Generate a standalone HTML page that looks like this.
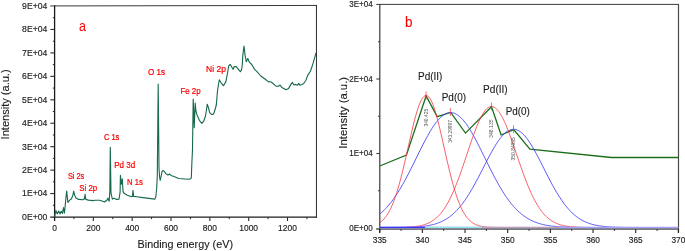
<!DOCTYPE html>
<html><head><meta charset="utf-8"><title>XPS spectra</title>
<style>html,body{margin:0;padding:0;background:#fff;}body{width:685px;height:251px;overflow:hidden;font-family:"Liberation Sans",sans-serif;}svg{display:block;will-change:transform;}</style>
</head><body>
<svg width="685" height="251" viewBox="0 0 685 251" font-family="Liberation Sans, sans-serif">
<rect width="685" height="251" fill="#fff"/>
<g stroke="#2a2a2a" fill="none">
<line x1="50.2" y1="5.95" x2="317" y2="5.45" stroke="#383838" stroke-width="1.0"/>
<line x1="50.2" y1="217.15" x2="317" y2="217.15" stroke="#1e1e1e" stroke-width="1.15"/>
<line x1="54.6" y1="5.4" x2="54.6" y2="221" stroke="#1a1a1a" stroke-width="1.3"/>
<line x1="316.45" y1="5.0" x2="316.45" y2="217.7" stroke-width="1.0"/>
<line x1="52.8" y1="205.28" x2="54.6" y2="205.28" stroke-width="1"/>
<line x1="50.4" y1="193.56" x2="54.6" y2="193.56" stroke-width="1.1"/>
<line x1="52.8" y1="181.84" x2="54.6" y2="181.84" stroke-width="1"/>
<line x1="50.4" y1="170.12" x2="54.6" y2="170.12" stroke-width="1.1"/>
<line x1="52.8" y1="158.40" x2="54.6" y2="158.40" stroke-width="1"/>
<line x1="50.4" y1="146.68" x2="54.6" y2="146.68" stroke-width="1.1"/>
<line x1="52.8" y1="134.96" x2="54.6" y2="134.96" stroke-width="1"/>
<line x1="50.4" y1="123.24" x2="54.6" y2="123.24" stroke-width="1.1"/>
<line x1="52.8" y1="111.52" x2="54.6" y2="111.52" stroke-width="1"/>
<line x1="50.4" y1="99.80" x2="54.6" y2="99.80" stroke-width="1.1"/>
<line x1="52.8" y1="88.08" x2="54.6" y2="88.08" stroke-width="1"/>
<line x1="50.4" y1="76.36" x2="54.6" y2="76.36" stroke-width="1.1"/>
<line x1="52.8" y1="64.64" x2="54.6" y2="64.64" stroke-width="1"/>
<line x1="50.4" y1="52.92" x2="54.6" y2="52.92" stroke-width="1.1"/>
<line x1="52.8" y1="41.20" x2="54.6" y2="41.20" stroke-width="1"/>
<line x1="50.4" y1="29.48" x2="54.6" y2="29.48" stroke-width="1.1"/>
<line x1="52.8" y1="17.76" x2="54.6" y2="17.76" stroke-width="1"/>
<line x1="73.92" y1="217.2" x2="73.92" y2="219.2" stroke-width="1"/>
<line x1="93.33" y1="217.2" x2="93.33" y2="221" stroke-width="1.1"/>
<line x1="112.75" y1="217.2" x2="112.75" y2="219.2" stroke-width="1"/>
<line x1="132.17" y1="217.2" x2="132.17" y2="221" stroke-width="1.1"/>
<line x1="151.59" y1="217.2" x2="151.59" y2="219.2" stroke-width="1"/>
<line x1="171.00" y1="217.2" x2="171.00" y2="221" stroke-width="1.1"/>
<line x1="190.42" y1="217.2" x2="190.42" y2="219.2" stroke-width="1"/>
<line x1="209.84" y1="217.2" x2="209.84" y2="221" stroke-width="1.1"/>
<line x1="229.25" y1="217.2" x2="229.25" y2="219.2" stroke-width="1"/>
<line x1="248.67" y1="217.2" x2="248.67" y2="221" stroke-width="1.1"/>
<line x1="268.09" y1="217.2" x2="268.09" y2="219.2" stroke-width="1"/>
<line x1="287.50" y1="217.2" x2="287.50" y2="221" stroke-width="1.1"/>
<line x1="306.92" y1="217.2" x2="306.92" y2="219.2" stroke-width="1"/>
</g>
<g fill="#1c1c1c" stroke="#1c1c1c" stroke-width="0.15" font-size="8.7" text-anchor="end">
<text x="47.3" y="219.85" textLength="25.2" lengthAdjust="spacingAndGlyphs">0E+00</text>
<text x="47.3" y="196.41" textLength="25.2" lengthAdjust="spacingAndGlyphs">1E+04</text>
<text x="47.3" y="172.97" textLength="25.2" lengthAdjust="spacingAndGlyphs">2E+04</text>
<text x="47.3" y="149.53" textLength="25.2" lengthAdjust="spacingAndGlyphs">3E+04</text>
<text x="47.3" y="126.09" textLength="25.2" lengthAdjust="spacingAndGlyphs">4E+04</text>
<text x="47.3" y="102.65" textLength="25.2" lengthAdjust="spacingAndGlyphs">5E+04</text>
<text x="47.3" y="79.21" textLength="25.2" lengthAdjust="spacingAndGlyphs">6E+04</text>
<text x="47.3" y="55.77" textLength="25.2" lengthAdjust="spacingAndGlyphs">7E+04</text>
<text x="47.3" y="32.33" textLength="25.2" lengthAdjust="spacingAndGlyphs">8E+04</text>
<text x="47.3" y="8.89" textLength="25.2" lengthAdjust="spacingAndGlyphs">9E+04</text>
</g>
<g fill="#1c1c1c" stroke="#1c1c1c" stroke-width="0.15" font-size="8.45" text-anchor="middle">
<text x="54.50" y="230.8">0</text>
<text x="93.33" y="230.8">200</text>
<text x="132.17" y="230.8">400</text>
<text x="171.00" y="230.8">600</text>
<text x="209.84" y="230.8">800</text>
<text x="248.67" y="230.8">1000</text>
<text x="287.50" y="230.8">1200</text>
</g>
<text x="137.6" y="247.6" font-size="10.7" fill="#1c1c1c" stroke="#1c1c1c" stroke-width="0.12" textLength="95.4" lengthAdjust="spacingAndGlyphs">Binding energy (eV)</text>
<text transform="translate(9.0,139.4) rotate(-90)" font-size="10.3" fill="#1c1c1c" stroke="#1c1c1c" stroke-width="0.12" textLength="70" lengthAdjust="spacingAndGlyphs">Intensity (a.u.)</text>
<polyline fill="none" stroke="#176a4c" stroke-width="1.12" stroke-linejoin="round" points="54.6,217.0 55.1,214.0 55.9,210.4 57.2,213.9 58.7,210.9 60.0,213.9 61.2,211.2 62.4,213.5 63.5,207.6 64.4,213.2 65.1,206.9 65.9,197.9 66.7,191.1 67.4,197.9 67.9,202.4 69.7,200.1 71.5,198.8 72.9,195.2 73.7,191.1 74.6,195.2 76.0,197.9 78.7,199.4 83.2,199.7 84.4,198.8 85.1,194.3 85.8,199.4 88.5,200.1 93.0,200.6 95.0,200.3 99.8,200.3 104.6,202.0 107.0,200.0 107.9,198.2 109.1,201.2 109.8,192.2 110.3,147.2 111.0,193.4 112.4,199.1 114.2,198.2 116.6,199.4 119.0,199.1 120.1,192.2 120.4,175.2 121.3,184.2 122.3,178.8 122.6,185.0 123.1,191.6 124.3,193.6 127.3,195.2 130.9,196.6 132.4,196.4 133.0,190.2 133.6,196.4 136.9,196.7 142.9,197.6 148.9,198.4 154.9,199.1 155.8,197.0 156.7,188.0 157.3,176.0 158.2,84.0 159.0,168.0 159.6,177.0 160.2,180.5 161.0,177.0 162.0,171.6 163.0,170.4 164.4,171.6 166.2,174.0 168.0,175.1 169.4,174.0 171.0,175.4 174.0,176.6 178.7,178.5 184.7,179.0 189.5,179.3 191.3,178.1 191.9,162.0 192.5,150.0 192.9,120.0 193.2,99.1 193.7,112.5 194.2,127.8 194.8,112.5 195.2,103.0 196.0,111.5 197.1,115.2 199.5,120.6 201.9,123.3 203.7,121.2 205.5,116.0 206.7,108.0 207.3,104.2 208.5,108.0 209.7,112.6 211.5,114.4 213.6,114.2 215.5,108.0 216.3,105.0 217.5,91.0 218.4,85.0 219.3,79.8 221.1,82.8 223.5,85.7 225.9,81.6 227.7,72.0 228.7,66.0 230.1,64.4 231.9,67.2 233.1,69.3 234.3,66.6 236.1,66.6 237.9,68.6 240.3,71.7 241.5,70.2 242.3,65.0 242.8,55.4 244.0,46.0 245.1,55.4 246.3,61.7 247.8,58.5 249.4,62.2 251.7,64.5 254.6,69.4 257.0,71.6 260.8,76.0 265.0,79.0 268.2,81.6 271.2,82.0 276.0,86.2 278.4,86.2 280.1,85.0 281.9,87.4 286.1,89.8 288.5,88.6 290.9,84.4 292.4,82.3 293.9,85.0 295.7,84.4 297.5,85.3 298.7,83.4 299.9,85.3 303.5,83.8 305.9,80.2 307.7,75.4 310.5,71.0 312.7,64.6 315.1,56.2 315.9,53.0"/>
<text x="148.1" y="75.1" font-size="8.4" fill="#ff0000" stroke="#ff0000" stroke-width="0.2" textLength="17" lengthAdjust="spacingAndGlyphs">O 1s</text>
<text x="206.1" y="71.7" font-size="8.4" fill="#ff0000" stroke="#ff0000" stroke-width="0.2" textLength="19.8" lengthAdjust="spacingAndGlyphs">Ni 2p</text>
<text x="180.4" y="93.6" font-size="8.4" fill="#ff0000" stroke="#ff0000" stroke-width="0.2" textLength="20.3" lengthAdjust="spacingAndGlyphs">Fe 2p</text>
<text x="103.9" y="140.0" font-size="8.4" fill="#ff0000" stroke="#ff0000" stroke-width="0.2" textLength="15.5" lengthAdjust="spacingAndGlyphs">C 1s</text>
<text x="114.2" y="168.1" font-size="8.4" fill="#ff0000" stroke="#ff0000" stroke-width="0.2" textLength="20.9" lengthAdjust="spacingAndGlyphs">Pd 3d</text>
<text x="127.1" y="184.9" font-size="8.4" fill="#ff0000" stroke="#ff0000" stroke-width="0.2" textLength="15.8" lengthAdjust="spacingAndGlyphs">N 1s</text>
<text x="67.9" y="179.4" font-size="8.4" fill="#ff0000" stroke="#ff0000" stroke-width="0.2" textLength="16.4" lengthAdjust="spacingAndGlyphs">Si 2s</text>
<text x="79.3" y="190.7" font-size="8.4" fill="#ff0000" stroke="#ff0000" stroke-width="0.2" textLength="17.9" lengthAdjust="spacingAndGlyphs">Si 2p</text>
<text x="79.0" y="30.6" font-size="14.9" fill="#ff0000" textLength="6.9" lengthAdjust="spacingAndGlyphs">a</text>
<g stroke="#3a3a3a" fill="none">
<line x1="376.2" y1="4.4" x2="679" y2="4.4" stroke-width="1"/>
<line x1="376.2" y1="229.0" x2="679" y2="229.0" stroke="#7c7c7c" stroke-width="1.8"/>
<line x1="379.8" y1="4" x2="379.8" y2="232.8" stroke-width="1.2"/>
<line x1="678.5" y1="4" x2="678.5" y2="232.8" stroke="#4a4a4a" stroke-width="1.2"/>
<line x1="378" y1="190.75" x2="379.8" y2="190.75" stroke-width="1"/>
<line x1="376.4" y1="153.50" x2="379.8" y2="153.50" stroke-width="1.1"/>
<line x1="378" y1="116.25" x2="379.8" y2="116.25" stroke-width="1"/>
<line x1="376.4" y1="79.00" x2="379.8" y2="79.00" stroke-width="1.1"/>
<line x1="378" y1="41.75" x2="379.8" y2="41.75" stroke-width="1"/>
<line x1="379.70" y1="229.2" x2="379.70" y2="233.0" stroke="#222" stroke-width="1.1"/>
<line x1="401.03" y1="229.2" x2="401.03" y2="230.9" stroke="#222" stroke-width="1"/>
<line x1="422.37" y1="229.2" x2="422.37" y2="233.0" stroke="#222" stroke-width="1.1"/>
<line x1="443.70" y1="229.2" x2="443.70" y2="230.9" stroke="#222" stroke-width="1"/>
<line x1="465.04" y1="229.2" x2="465.04" y2="233.0" stroke="#222" stroke-width="1.1"/>
<line x1="486.38" y1="229.2" x2="486.38" y2="230.9" stroke="#222" stroke-width="1"/>
<line x1="507.71" y1="229.2" x2="507.71" y2="233.0" stroke="#222" stroke-width="1.1"/>
<line x1="529.04" y1="229.2" x2="529.04" y2="230.9" stroke="#222" stroke-width="1"/>
<line x1="550.38" y1="229.2" x2="550.38" y2="233.0" stroke="#222" stroke-width="1.1"/>
<line x1="571.72" y1="229.2" x2="571.72" y2="230.9" stroke="#222" stroke-width="1"/>
<line x1="593.05" y1="229.2" x2="593.05" y2="233.0" stroke="#222" stroke-width="1.1"/>
<line x1="614.38" y1="229.2" x2="614.38" y2="230.9" stroke="#222" stroke-width="1"/>
<line x1="635.72" y1="229.2" x2="635.72" y2="233.0" stroke="#222" stroke-width="1.1"/>
<line x1="657.06" y1="229.2" x2="657.06" y2="230.9" stroke="#222" stroke-width="1"/>
<line x1="678.39" y1="229.2" x2="678.39" y2="233.0" stroke="#222" stroke-width="1.1"/>
</g>
<g fill="#1c1c1c" stroke="#1c1c1c" stroke-width="0.15" font-size="8.2" text-anchor="end">
<text x="372.6" y="231.10" textLength="23.4" lengthAdjust="spacingAndGlyphs">0E+00</text>
<text x="372.6" y="156.40" textLength="23.4" lengthAdjust="spacingAndGlyphs">1E+04</text>
<text x="372.6" y="81.70" textLength="23.4" lengthAdjust="spacingAndGlyphs">2E+04</text>
<text x="372.6" y="7.00" textLength="23.4" lengthAdjust="spacingAndGlyphs">3E+04</text>
</g>
<g fill="#1c1c1c" stroke="#1c1c1c" stroke-width="0.15" font-size="8.3" text-anchor="middle">
<text x="379.70" y="243.1">335</text>
<text x="422.37" y="243.1">340</text>
<text x="465.04" y="243.1">345</text>
<text x="507.71" y="243.1">350</text>
<text x="550.38" y="243.1">355</text>
<text x="593.05" y="243.1">360</text>
<text x="635.72" y="243.1">365</text>
<text x="678.39" y="243.1">370</text>
</g>
<text transform="translate(346.8,148.7) rotate(-90)" font-size="10.1" fill="#1c1c1c" stroke="#1c1c1c" stroke-width="0.12" textLength="71.8" lengthAdjust="spacingAndGlyphs">Intensity (a.u.)</text>
<polyline fill="none" stroke="#1c6e1c" stroke-width="1.3" stroke-linejoin="miter" points="379.8,166.0 406.4,155.1 426.1,96.0 437.2,116.6 450.7,112.4 465.5,133.1 491.5,106.8 501.1,135.0 513.7,129.6 529.9,149.2 611.4,157.5 678.4,157.5"/>
<polyline fill="none" stroke="#4444f4" stroke-width="0.9" stroke-linejoin="round" points="379.8,214.02 380.8,213.18 381.8,212.31 382.8,211.40 383.8,210.44 384.8,209.45 385.8,208.41 386.8,207.33 387.8,206.21 388.8,205.05 389.8,203.84 390.8,202.59 391.8,201.29 392.8,199.95 393.8,198.57 394.8,197.14 395.8,195.67 396.8,194.16 397.8,192.61 398.8,191.01 399.8,189.37 400.8,187.70 401.8,185.99 402.8,184.24 403.8,182.45 404.8,180.63 405.8,178.78 406.8,176.90 407.8,174.99 408.8,173.06 409.8,171.10 410.8,169.12 411.8,167.13 412.8,165.12 413.8,163.10 414.8,161.07 415.8,159.03 416.8,156.99 417.8,154.96 418.8,152.93 419.8,150.90 420.8,148.89 421.8,146.90 422.8,144.93 423.8,142.98 424.8,141.05 425.8,139.16 426.8,137.31 427.8,135.50 428.8,133.72 429.8,132.00 430.8,130.33 431.8,128.71 432.8,127.15 433.8,125.66 434.8,124.23 435.8,122.87 436.8,121.58 437.8,120.37 438.8,119.24 439.8,118.19 440.8,117.22 441.8,116.34 442.8,115.55 443.8,114.85 444.8,114.24 445.8,113.73 446.8,113.31 447.8,112.98 448.8,112.76 449.8,112.63 450.8,112.60 451.8,112.67 452.8,112.84 453.8,113.10 454.8,113.46 455.8,113.92 456.8,114.47 457.8,115.12 458.8,115.86 459.8,116.68 460.8,117.60 461.8,118.60 462.8,119.68 463.8,120.85 464.8,122.09 465.8,123.41 466.8,124.79 467.8,126.25 468.8,127.77 469.8,129.35 470.8,130.99 471.8,132.68 472.8,134.43 473.8,136.22 474.8,138.05 475.8,139.92 476.8,141.82 477.8,143.75 478.8,145.71 479.8,147.70 480.8,149.70 481.8,151.71 482.8,153.74 483.8,155.77 484.8,157.81 485.8,159.85 486.8,161.88 487.8,163.91 488.8,165.92 489.8,167.93 490.8,169.92 491.8,171.89 492.8,173.83 493.8,175.76 494.8,177.66 495.8,179.52 496.8,181.36 497.8,183.17 498.8,184.94 499.8,186.68 500.8,188.37 501.8,190.03 502.8,191.65 503.8,193.23 504.8,194.77 505.8,196.27 506.8,197.72 507.8,199.13 508.8,200.49 509.8,201.82 510.8,203.09 511.8,204.33 512.8,205.52 513.8,206.67 514.8,207.77 515.8,208.83 516.8,209.85 517.8,210.83 518.8,211.77 519.8,212.66 520.8,213.52 521.8,214.34 522.8,215.13 523.8,215.87 524.8,216.58 525.8,217.26 526.8,217.90 527.8,218.51 528.8,219.09 529.8,219.63 530.8,220.15 531.8,220.64 532.8,221.10 533.8,221.54 534.8,221.95 535.8,222.34 536.8,222.70 537.8,223.05 538.8,223.37 539.8,223.67 540.8,223.95 541.8,224.22 542.8,224.47 543.8,224.70 544.8,224.91 545.8,225.11 546.8,225.30 547.8,225.48 548.8,225.64 549.8,225.79 550.8,225.93 551.8,226.06 552.8,226.18 553.8,226.29 554.8,226.39 555.8,226.49 556.8,226.57 557.8,226.66 558.8,226.73 559.8,226.80 560.8,226.86 561.8,226.92 562.8,226.97 563.8,227.02 564.8,227.06 565.8,227.11 566.8,227.14 567.8,227.18 568.8,227.21 569.8,227.24 570.8,227.26 571.8,227.28 572.8,227.31 573.8,227.33 574.8,227.34 575.8,227.36 576.8,227.37 577.8,227.39 578.8,227.40 579.8,227.41 580.8,227.42 581.8,227.43 582.8,227.43 583.8,227.44 584.8,227.45 585.8,227.45 586.8,227.46 587.8,227.46 588.8,227.47 589.8,227.47 590.8,227.47 591.8,227.48 592.8,227.48 593.8,227.48 594.8,227.48 595.8,227.49 596.8,227.49 597.8,227.49 598.8,227.49 599.8,227.49 600.8,227.49 601.8,227.49 602.8,227.49 603.8,227.49 604.8,227.50 605.8,227.50 606.8,227.50 607.8,227.50 608.8,227.50 609.8,227.50 610.8,227.50 611.8,227.50 612.8,227.50 613.8,227.50 614.8,227.50 615.8,227.50 616.8,227.50 617.8,227.50 618.8,227.50 619.8,227.50 620.8,227.50 621.8,227.50 622.8,227.50 623.8,227.50 624.8,227.50 625.8,227.50 626.8,227.50 627.8,227.50 628.8,227.50 629.8,227.50 630.8,227.50 631.8,227.50 632.8,227.50 633.8,227.50 634.8,227.50 635.8,227.50 636.8,227.50 637.8,227.50 638.8,227.50 639.8,227.50 640.8,227.50 641.8,227.50 642.8,227.50 643.8,227.50 644.8,227.50 645.8,227.50 646.8,227.50 647.8,227.50 648.8,227.50 649.8,227.50 650.8,227.50 651.8,227.50 652.8,227.50 653.8,227.50 654.8,227.50 655.8,227.50 656.8,227.50 657.8,227.50 658.8,227.50 659.8,227.50 660.8,227.50 661.8,227.50 662.8,227.50 663.8,227.50 664.8,227.50 665.8,227.50 666.8,227.50 667.8,227.50 668.8,227.50 669.8,227.50 670.8,227.50 671.8,227.50 672.8,227.50 673.8,227.50 674.8,227.50 675.8,227.50 676.8,227.50 677.8,227.50"/>
<polyline fill="none" stroke="#4444f4" stroke-width="0.9" stroke-linejoin="round" points="379.8,227.49 380.8,227.49 381.8,227.49 382.8,227.49 383.8,227.49 384.8,227.49 385.8,227.49 386.8,227.48 387.8,227.48 388.8,227.48 389.8,227.48 390.8,227.47 391.8,227.47 392.8,227.46 393.8,227.46 394.8,227.45 395.8,227.45 396.8,227.44 397.8,227.43 398.8,227.42 399.8,227.41 400.8,227.40 401.8,227.39 402.8,227.37 403.8,227.36 404.8,227.34 405.8,227.32 406.8,227.29 407.8,227.27 408.8,227.24 409.8,227.21 410.8,227.18 411.8,227.14 412.8,227.10 413.8,227.05 414.8,227.00 415.8,226.94 416.8,226.88 417.8,226.82 418.8,226.74 419.8,226.66 420.8,226.57 421.8,226.47 422.8,226.37 423.8,226.25 424.8,226.12 425.8,225.98 426.8,225.83 427.8,225.67 428.8,225.49 429.8,225.30 430.8,225.09 431.8,224.87 432.8,224.63 433.8,224.37 434.8,224.09 435.8,223.79 436.8,223.46 437.8,223.11 438.8,222.74 439.8,222.34 440.8,221.92 441.8,221.46 442.8,220.98 443.8,220.46 444.8,219.92 445.8,219.33 446.8,218.72 447.8,218.06 448.8,217.37 449.8,216.64 450.8,215.87 451.8,215.06 452.8,214.21 453.8,213.31 454.8,212.37 455.8,211.39 456.8,210.36 457.8,209.28 458.8,208.16 459.8,206.99 460.8,205.77 461.8,204.50 462.8,203.19 463.8,201.83 464.8,200.43 465.8,198.97 466.8,197.48 467.8,195.93 468.8,194.35 469.8,192.72 470.8,191.05 471.8,189.34 472.8,187.60 473.8,185.82 474.8,184.01 475.8,182.17 476.8,180.30 477.8,178.41 478.8,176.50 479.8,174.57 480.8,172.63 481.8,170.68 482.8,168.72 483.8,166.76 484.8,164.81 485.8,162.86 486.8,160.92 487.8,159.00 488.8,157.10 489.8,155.22 490.8,153.37 491.8,151.56 492.8,149.79 493.8,148.07 494.8,146.39 495.8,144.77 496.8,143.21 497.8,141.71 498.8,140.27 499.8,138.91 500.8,137.63 501.8,136.43 502.8,135.31 503.8,134.27 504.8,133.33 505.8,132.48 506.8,131.73 507.8,131.07 508.8,130.52 509.8,130.06 510.8,129.72 511.8,129.47 512.8,129.33 513.8,129.30 514.8,129.38 515.8,129.56 516.8,129.86 517.8,130.26 518.8,130.76 519.8,131.37 520.8,132.09 521.8,132.90 522.8,133.81 523.8,134.82 524.8,135.91 525.8,137.09 526.8,138.36 527.8,139.71 528.8,141.13 529.8,142.62 530.8,144.18 531.8,145.81 532.8,147.49 533.8,149.22 534.8,151.00 535.8,152.82 536.8,154.68 537.8,156.57 538.8,158.49 539.8,160.44 540.8,162.40 541.8,164.37 542.8,166.35 543.8,168.34 544.8,170.32 545.8,172.30 546.8,174.27 547.8,176.22 548.8,178.16 549.8,180.08 550.8,181.98 551.8,183.85 552.8,185.68 553.8,187.49 554.8,189.26 555.8,190.99 556.8,192.68 557.8,194.33 558.8,195.94 559.8,197.50 560.8,199.02 561.8,200.49 562.8,201.91 563.8,203.28 564.8,204.61 565.8,205.89 566.8,207.12 567.8,208.30 568.8,209.43 569.8,210.52 570.8,211.55 571.8,212.54 572.8,213.49 573.8,214.39 574.8,215.24 575.8,216.05 576.8,216.82 577.8,217.55 578.8,218.24 579.8,218.90 580.8,219.51 581.8,220.09 582.8,220.63 583.8,221.15 584.8,221.63 585.8,222.08 586.8,222.50 587.8,222.89 588.8,223.26 589.8,223.60 590.8,223.92 591.8,224.21 592.8,224.49 593.8,224.74 594.8,224.98 595.8,225.20 596.8,225.40 597.8,225.59 598.8,225.76 599.8,225.92 600.8,226.06 601.8,226.20 602.8,226.32 603.8,226.43 604.8,226.53 605.8,226.63 606.8,226.71 607.8,226.79 608.8,226.86 609.8,226.93 610.8,226.98 611.8,227.04 612.8,227.09 613.8,227.13 614.8,227.17 615.8,227.20 616.8,227.24 617.8,227.26 618.8,227.29 619.8,227.31 620.8,227.33 621.8,227.35 622.8,227.37 623.8,227.38 624.8,227.40 625.8,227.41 626.8,227.42 627.8,227.43 628.8,227.44 629.8,227.45 630.8,227.45 631.8,227.46 632.8,227.46 633.8,227.47 634.8,227.47 635.8,227.48 636.8,227.48 637.8,227.48 638.8,227.48 639.8,227.49 640.8,227.49 641.8,227.49 642.8,227.49 643.8,227.49 644.8,227.49 645.8,227.49 646.8,227.49 647.8,227.50 648.8,227.50 649.8,227.50 650.8,227.50 651.8,227.50 652.8,227.50 653.8,227.50 654.8,227.50 655.8,227.50 656.8,227.50 657.8,227.50 658.8,227.50 659.8,227.50 660.8,227.50 661.8,227.50 662.8,227.50 663.8,227.50 664.8,227.50 665.8,227.50 666.8,227.50 667.8,227.50 668.8,227.50 669.8,227.50 670.8,227.50 671.8,227.50 672.8,227.50 673.8,227.50 674.8,227.50 675.8,227.50 676.8,227.50 677.8,227.50"/>
<polyline fill="none" stroke="#f5363f" stroke-width="0.8" stroke-linejoin="round" points="379.8,222.67 380.8,221.94 381.8,221.11 382.8,220.19 383.8,219.16 384.8,218.01 385.8,216.73 386.8,215.33 387.8,213.78 388.8,212.08 389.8,210.22 390.8,208.21 391.8,206.02 392.8,203.66 393.8,201.12 394.8,198.39 395.8,195.49 396.8,192.41 397.8,189.15 398.8,185.71 399.8,182.11 400.8,178.34 401.8,174.43 402.8,170.39 403.8,166.22 404.8,161.96 405.8,157.61 406.8,153.21 407.8,148.77 408.8,144.33 409.8,139.90 410.8,135.52 411.8,131.22 412.8,127.03 413.8,122.99 414.8,119.11 415.8,115.43 416.8,111.99 417.8,108.81 418.8,105.92 419.8,103.34 420.8,101.10 421.8,99.21 422.8,97.70 423.8,96.57 424.8,95.84 425.8,95.52 426.8,95.60 427.8,96.09 428.8,96.98 429.8,98.26 430.8,99.92 431.8,101.96 432.8,104.33 433.8,107.04 434.8,110.05 435.8,113.34 436.8,116.88 437.8,120.64 438.8,124.59 439.8,128.69 440.8,132.93 441.8,137.27 442.8,141.67 443.8,146.10 444.8,150.55 445.8,154.98 446.8,159.36 447.8,163.68 448.8,167.90 449.8,172.02 450.8,176.01 451.8,179.87 452.8,183.57 453.8,187.10 454.8,190.47 455.8,193.66 456.8,196.67 457.8,199.50 458.8,202.15 459.8,204.62 460.8,206.91 461.8,209.03 462.8,210.99 463.8,212.78 464.8,214.41 465.8,215.91 466.8,217.26 467.8,218.48 468.8,219.58 469.8,220.57 470.8,221.45 471.8,222.24 472.8,222.94 473.8,223.56 474.8,224.10 475.8,224.58 476.8,225.00 477.8,225.37 478.8,225.68 479.8,225.96 480.8,226.20 481.8,226.40 482.8,226.58 483.8,226.73 484.8,226.85 485.8,226.96 486.8,227.05 487.8,227.13 488.8,227.19 489.8,227.25 490.8,227.29 491.8,227.33 492.8,227.36 493.8,227.39 494.8,227.41 495.8,227.43 496.8,227.44 497.8,227.45 498.8,227.46 499.8,227.47 500.8,227.48 501.8,227.48 502.8,227.48 503.8,227.49 504.8,227.49 505.8,227.49 506.8,227.49 507.8,227.50 508.8,227.50 509.8,227.50 510.8,227.50 511.8,227.50 512.8,227.50 513.8,227.50 514.8,227.50 515.8,227.50 516.8,227.50 517.8,227.50 518.8,227.50 519.8,227.50 520.8,227.50 521.8,227.50 522.8,227.50 523.8,227.50 524.8,227.50 525.8,227.50 526.8,227.50 527.8,227.50 528.8,227.50 529.8,227.50 530.8,227.50 531.8,227.50 532.8,227.50 533.8,227.50 534.8,227.50 535.8,227.50 536.8,227.50 537.8,227.50 538.8,227.50 539.8,227.50 540.8,227.50 541.8,227.50 542.8,227.50 543.8,227.50 544.8,227.50 545.8,227.50 546.8,227.50 547.8,227.50 548.8,227.50 549.8,227.50 550.8,227.50 551.8,227.50 552.8,227.50 553.8,227.50 554.8,227.50 555.8,227.50 556.8,227.50 557.8,227.50 558.8,227.50 559.8,227.50 560.8,227.50 561.8,227.50 562.8,227.50 563.8,227.50 564.8,227.50 565.8,227.50 566.8,227.50 567.8,227.50 568.8,227.50 569.8,227.50 570.8,227.50 571.8,227.50 572.8,227.50 573.8,227.50 574.8,227.50 575.8,227.50 576.8,227.50 577.8,227.50 578.8,227.50 579.8,227.50 580.8,227.50 581.8,227.50 582.8,227.50 583.8,227.50 584.8,227.50 585.8,227.50 586.8,227.50 587.8,227.50 588.8,227.50 589.8,227.50 590.8,227.50 591.8,227.50 592.8,227.50 593.8,227.50 594.8,227.50 595.8,227.50 596.8,227.50 597.8,227.50 598.8,227.50 599.8,227.50 600.8,227.50 601.8,227.50 602.8,227.50 603.8,227.50 604.8,227.50 605.8,227.50 606.8,227.50 607.8,227.50 608.8,227.50 609.8,227.50 610.8,227.50 611.8,227.50 612.8,227.50 613.8,227.50 614.8,227.50 615.8,227.50 616.8,227.50 617.8,227.50 618.8,227.50 619.8,227.50 620.8,227.50 621.8,227.50 622.8,227.50 623.8,227.50 624.8,227.50 625.8,227.50 626.8,227.50 627.8,227.50 628.8,227.50 629.8,227.50 630.8,227.50 631.8,227.50 632.8,227.50 633.8,227.50 634.8,227.50 635.8,227.50 636.8,227.50 637.8,227.50 638.8,227.50 639.8,227.50 640.8,227.50 641.8,227.50 642.8,227.50 643.8,227.50 644.8,227.50 645.8,227.50 646.8,227.50 647.8,227.50 648.8,227.50 649.8,227.50 650.8,227.50 651.8,227.50 652.8,227.50 653.8,227.50 654.8,227.50 655.8,227.50 656.8,227.50 657.8,227.50 658.8,227.50 659.8,227.50 660.8,227.50 661.8,227.50 662.8,227.50 663.8,227.50 664.8,227.50 665.8,227.50 666.8,227.50 667.8,227.50 668.8,227.50 669.8,227.50 670.8,227.50 671.8,227.50 672.8,227.50 673.8,227.50 674.8,227.50 675.8,227.50 676.8,227.50 677.8,227.50"/>
<polyline fill="none" stroke="#f5363f" stroke-width="0.8" stroke-linejoin="round" points="379.8,227.50 380.8,227.50 381.8,227.49 382.8,227.49 383.8,227.49 384.8,227.49 385.8,227.49 386.8,227.49 387.8,227.48 388.8,227.48 389.8,227.48 390.8,227.47 391.8,227.47 392.8,227.46 393.8,227.46 394.8,227.45 395.8,227.44 396.8,227.43 397.8,227.42 398.8,227.41 399.8,227.39 400.8,227.37 401.8,227.35 402.8,227.33 403.8,227.30 404.8,227.27 405.8,227.23 406.8,227.19 407.8,227.15 408.8,227.09 409.8,227.03 410.8,226.97 411.8,226.89 412.8,226.80 413.8,226.71 414.8,226.60 415.8,226.48 416.8,226.34 417.8,226.19 418.8,226.02 419.8,225.83 420.8,225.62 421.8,225.38 422.8,225.13 423.8,224.84 424.8,224.53 425.8,224.18 426.8,223.80 427.8,223.38 428.8,222.92 429.8,222.42 430.8,221.88 431.8,221.29 432.8,220.64 433.8,219.94 434.8,219.19 435.8,218.37 436.8,217.49 437.8,216.55 438.8,215.53 439.8,214.44 440.8,213.28 441.8,212.04 442.8,210.72 443.8,209.32 444.8,207.83 445.8,206.26 446.8,204.59 447.8,202.84 448.8,201.00 449.8,199.07 450.8,197.05 451.8,194.95 452.8,192.75 453.8,190.46 454.8,188.10 455.8,185.65 456.8,183.12 457.8,180.52 458.8,177.85 459.8,175.11 460.8,172.31 461.8,169.47 462.8,166.57 463.8,163.64 464.8,160.68 465.8,157.70 466.8,154.71 467.8,151.71 468.8,148.73 469.8,145.76 470.8,142.82 471.8,139.92 472.8,137.08 473.8,134.29 474.8,131.58 475.8,128.96 476.8,126.43 477.8,124.01 478.8,121.71 479.8,119.54 480.8,117.51 481.8,115.62 482.8,113.89 483.8,112.33 484.8,110.94 485.8,109.73 486.8,108.71 487.8,107.87 488.8,107.23 489.8,106.79 490.8,106.55 491.8,106.51 492.8,106.66 493.8,107.01 494.8,107.55 495.8,108.28 496.8,109.19 497.8,110.28 498.8,111.55 499.8,112.99 500.8,114.59 501.8,116.35 502.8,118.25 503.8,120.29 504.8,122.47 505.8,124.76 506.8,127.16 507.8,129.67 508.8,132.26 509.8,134.94 510.8,137.68 511.8,140.48 512.8,143.33 513.8,146.22 514.8,149.13 515.8,152.06 516.8,154.99 517.8,157.92 518.8,160.84 519.8,163.74 520.8,166.61 521.8,169.45 522.8,172.24 523.8,174.98 524.8,177.67 525.8,180.29 526.8,182.85 527.8,185.33 528.8,187.74 529.8,190.08 530.8,192.33 531.8,194.50 532.8,196.59 533.8,198.59 534.8,200.50 535.8,202.33 536.8,204.07 537.8,205.72 538.8,207.29 539.8,208.78 540.8,210.19 541.8,211.51 542.8,212.76 543.8,213.93 544.8,215.03 545.8,216.06 546.8,217.02 547.8,217.92 548.8,218.75 549.8,219.52 550.8,220.24 551.8,220.90 552.8,221.51 553.8,222.08 554.8,222.59 555.8,223.07 556.8,223.51 557.8,223.91 558.8,224.27 559.8,224.60 560.8,224.90 561.8,225.18 562.8,225.43 563.8,225.65 564.8,225.86 565.8,226.04 566.8,226.20 567.8,226.35 568.8,226.48 569.8,226.60 570.8,226.71 571.8,226.80 572.8,226.89 573.8,226.96 574.8,227.03 575.8,227.09 576.8,227.14 577.8,227.19 578.8,227.23 579.8,227.26 580.8,227.29 581.8,227.32 582.8,227.35 583.8,227.37 584.8,227.39 585.8,227.40 586.8,227.42 587.8,227.43 588.8,227.44 589.8,227.45 590.8,227.45 591.8,227.46 592.8,227.47 593.8,227.47 594.8,227.48 595.8,227.48 596.8,227.48 597.8,227.49 598.8,227.49 599.8,227.49 600.8,227.49 601.8,227.49 602.8,227.49 603.8,227.49 604.8,227.50 605.8,227.50 606.8,227.50 607.8,227.50 608.8,227.50 609.8,227.50 610.8,227.50 611.8,227.50 612.8,227.50 613.8,227.50 614.8,227.50 615.8,227.50 616.8,227.50 617.8,227.50 618.8,227.50 619.8,227.50 620.8,227.50 621.8,227.50 622.8,227.50 623.8,227.50 624.8,227.50 625.8,227.50 626.8,227.50 627.8,227.50 628.8,227.50 629.8,227.50 630.8,227.50 631.8,227.50 632.8,227.50 633.8,227.50 634.8,227.50 635.8,227.50 636.8,227.50 637.8,227.50 638.8,227.50 639.8,227.50 640.8,227.50 641.8,227.50 642.8,227.50 643.8,227.50 644.8,227.50 645.8,227.50 646.8,227.50 647.8,227.50 648.8,227.50 649.8,227.50 650.8,227.50 651.8,227.50 652.8,227.50 653.8,227.50 654.8,227.50 655.8,227.50 656.8,227.50 657.8,227.50 658.8,227.50 659.8,227.50 660.8,227.50 661.8,227.50 662.8,227.50 663.8,227.50 664.8,227.50 665.8,227.50 666.8,227.50 667.8,227.50 668.8,227.50 669.8,227.50 670.8,227.50 671.8,227.50 672.8,227.50 673.8,227.50 674.8,227.50 675.8,227.50 676.8,227.50 677.8,227.50"/>
<line x1="379.8" y1="227.4" x2="678.4" y2="227.4" stroke="#a4a4ff" stroke-width="1.5"/>
<line x1="379.8" y1="227.4" x2="425" y2="227.4" stroke="#3838ff" stroke-width="1.1"/>
<line x1="425" y1="227.4" x2="482" y2="227.4" stroke="#8fe6e6" stroke-width="1.1"/>
<line x1="482" y1="227.4" x2="560" y2="227.4" stroke="#c8a0a8" stroke-width="1"/>
<line x1="426.1" y1="91.5" x2="426.1" y2="99.5" stroke="#f5363f" stroke-width="0.7"/>
<line x1="450.4" y1="108" x2="450.4" y2="116" stroke="#f5363f" stroke-width="0.7"/>
<line x1="491.5" y1="102.5" x2="491.5" y2="110.5" stroke="#f5363f" stroke-width="0.7"/>
<line x1="513.5" y1="125.30000000000001" x2="513.5" y2="133.3" stroke="#f5363f" stroke-width="0.7"/>
<text transform="translate(427.6,126.6) rotate(-90)" font-size="4.9" fill="#555" textLength="17.8" lengthAdjust="spacingAndGlyphs">340.425</text>
<text transform="translate(452.1,142.8) rotate(-90)" font-size="4.9" fill="#555" textLength="22.6" lengthAdjust="spacingAndGlyphs">343.29997</text>
<text transform="translate(493.2,137.8) rotate(-90)" font-size="4.9" fill="#555" textLength="18.4" lengthAdjust="spacingAndGlyphs">348.135</text>
<text transform="translate(514.8,160.4) rotate(-90)" font-size="4.9" fill="#555" textLength="23.2" lengthAdjust="spacingAndGlyphs">350.84995</text>
<text x="418" y="79.8" font-size="10" fill="#1c1c1c" stroke="#1c1c1c" stroke-width="0.12" textLength="24.4" lengthAdjust="spacingAndGlyphs">Pd(II)</text>
<text x="441.7" y="101.0" font-size="10" fill="#1c1c1c" stroke="#1c1c1c" stroke-width="0.12" textLength="24.4" lengthAdjust="spacingAndGlyphs">Pd(0)</text>
<text x="483.1" y="92.8" font-size="10" fill="#1c1c1c" stroke="#1c1c1c" stroke-width="0.12" textLength="24.6" lengthAdjust="spacingAndGlyphs">Pd(II)</text>
<text x="505.7" y="114.5" font-size="10" fill="#1c1c1c" stroke="#1c1c1c" stroke-width="0.12" textLength="24.2" lengthAdjust="spacingAndGlyphs">Pd(0)</text>
<text x="405.0" y="26.5" font-size="14.3" fill="#ff0000" stroke="#ff0000" stroke-width="0.1" textLength="7.5" lengthAdjust="spacingAndGlyphs">b</text>
</svg>
</body></html>
